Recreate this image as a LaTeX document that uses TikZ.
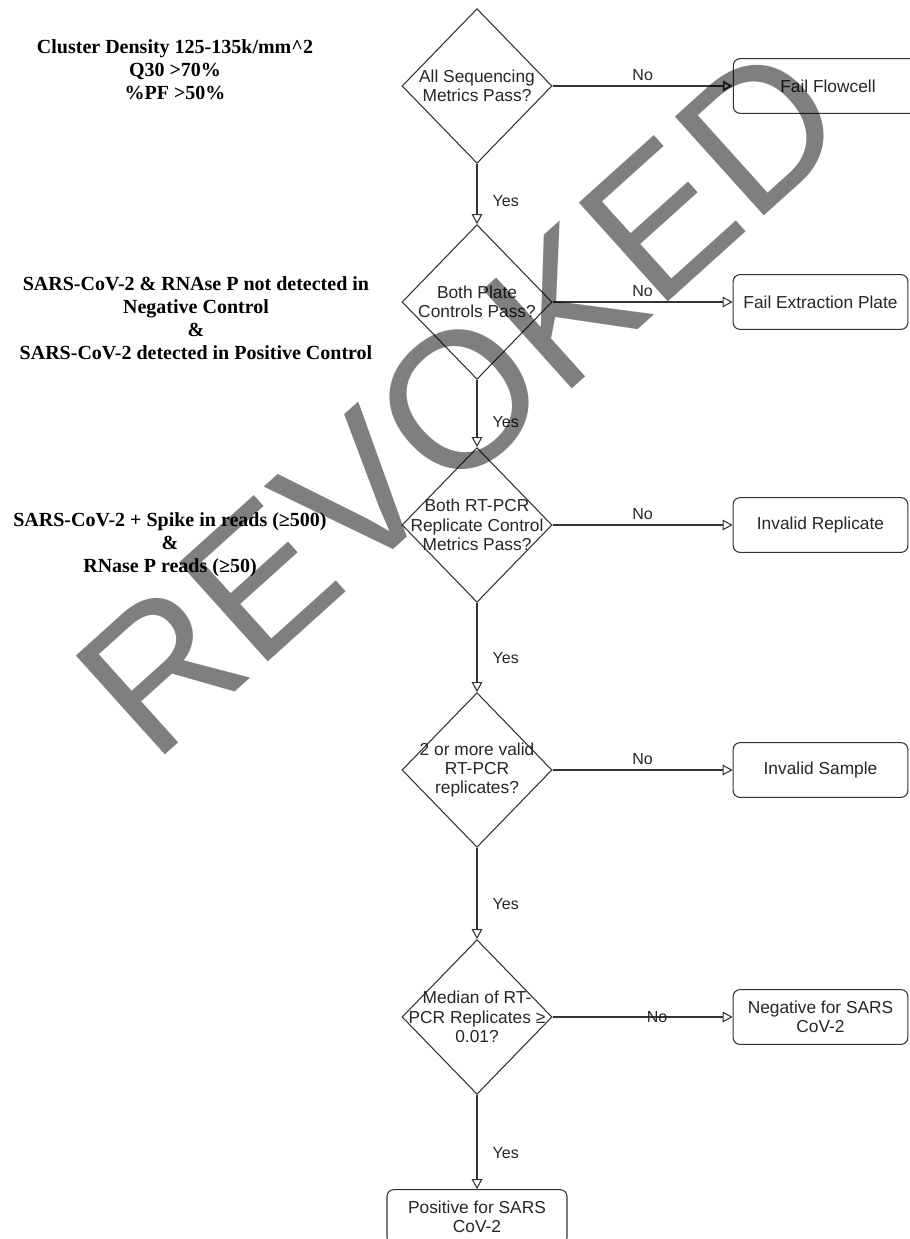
\documentclass[tikz,border=0pt]{standalone}
\usepackage{fontspec}
\setmainfont{Liberation Serif}
\setsansfont{Liberation Sans}
\usepackage{tikz}
\usetikzlibrary{arrows.meta, positioning, shapes.geometric}

\begin{document}
\begin{tikzpicture}[x=0.75pt, y=-0.75pt,
    decision/.style={diamond, draw=black!80, line width=0.8pt,
        minimum width=112.5pt, minimum height=116pt, inner sep=0pt},
    qtext/.style={align=center, text=black!85,
        font=\sffamily\fontsize{13}{14.6}\selectfont},
    result/.style={draw=black!80, line width=0.8pt, rounded corners=5pt,
        minimum width=131pt, minimum height=41pt, align=center, text=black!85,
        font=\sffamily\fontsize{13}{14.6}\selectfont},
    lab/.style={text=black!85, font=\sffamily\fontsize{12}{14}\selectfont},
    crit/.style={align=center, font=\bfseries\fontsize{15}{17.25}\selectfont},
    flow/.style={-{Triangle[open, length=7.5pt, width=8pt]}, draw=black!80,
        line width=0.8pt},
    stamp/.style={font=\sffamily\fontsize{145}{145}\selectfont, text=black,
        text opacity=0.5, rotate=42, inner sep=0pt},
]
    \clip (0,0) rectangle (910,1239);

    % Criteria
    \node[crit] (c1) at (175, 70)
        {Cluster Density 125-135k/mm\textasciicircum2\\Q30 >70\%\\\%PF >50\%};
    \node[crit] (c2) at (196, 318)
        {SARS-CoV-2 \& RNAse P not detected in\\Negative Control\\\&\\SARS-CoV-2 detected in Positive Control};
    \node[crit] (c3) at (170, 545)
        {SARS-CoV-2 + Spike in reads (≥500)\\\&\\RNase P reads (≥50)};

    % Decisions
    \foreach \n/\y/\t in {d1/86/{All Sequencing\\Metrics Pass?},
        d2/302/{Both Plate\\Controls Pass?},
        d3/525/{Both RT-PCR\\Replicate Control\\Metrics Pass?},
        d4/770/{2 or more valid\\RT-PCR\\replicates?},
        d5/1017/{Median of RT-\\PCR Replicates ≥\\0.01?}} {
        \node[decision, label={[qtext]center:\t}] (\n) at (477, \y) {};
    }

    % Outcomes
    \node[result, minimum width=142pt] (r1) at (828, 86) {Fail Flowcell};
    \foreach \n/\y/\t in {r2/302/Fail Extraction Plate,
        r3/525/Invalid Replicate, r4/770/Invalid Sample,
        r5/1017/{Negative for SARS\\CoV-2}} {
        \node[result] (\n) at (820.5, \y) {\t};
    }
    \node[result, minimum width=135pt] (pos) at (477, 1217)
        {Positive for SARS\\CoV-2};

    % No branches
    \draw[flow, line width=1.4pt] (d1) -- node[lab, above] {No} (r1);
    \foreach \a/\b in {d2/r2, d3/r3, d4/r4}
        \draw[flow] (\a) -- node[lab, above] {No} (\b);
    \draw[flow] (d5) -- node[lab, pos=0.58] {No} (r5);

    % Yes branches
    \foreach \a/\b in {d1/d2, d2/d3, d3/d4, d4/d5, d5/pos}
        \draw[flow] (\a) -- node[lab, right, pos=0.62, xshift=8pt] {Yes} (\b);

    % Watermark
    \node[stamp] (revoked) at (460, 400) {REVOKED};
\end{tikzpicture}
\end{document}
